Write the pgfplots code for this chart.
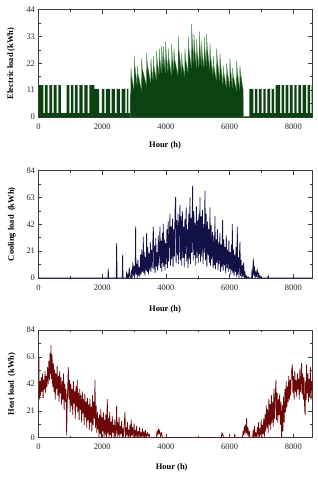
\documentclass[border=0pt]{standalone}
\usepackage{pgfplots}
\pgfplotsset{compat=1.18}
\usepackage{fontspec}
\setmainfont{Liberation Serif}
\definecolor{elecfill}{RGB}{12,66,18}
\definecolor{elecline}{RGB}{85,150,85}
\definecolor{coolline}{RGB}{18,18,72}
\definecolor{heatline}{RGB}{108,8,8}
\definecolor{axgray}{RGB}{60,60,60}
\pgfplotsset{
  loadax/.style={
    scale only axis, width=274bp, height=107.5bp,
    anchor=south west,
    xmin=0, xmax=8600, ymin=0,
    xtick={0,2000,4000,6000,8000}, minor x tick num=1, minor y tick num=1,
    tick align=inside, major tick length=4bp, minor tick length=2.2bp,
    axis line style={axgray, line width=0.6pt},
    every tick/.style={axgray, line width=0.5pt},
    /pgf/number format/assume math mode=true,
    /pgf/number format/1000 sep={},
    tick label style={font=\fontsize{8.5}{9}\selectfont, text=black!85},
    xticklabel style={yshift=-3bp},
    label style={font=\bfseries\fontsize{8.5}{9}\selectfont},
    xlabel={Hour (h)},
    ylabel style={anchor=center},
    xlabel style={anchor=center},
  }
}
\begin{document}
\begin{tikzpicture}
\useasboundingbox (0bp,0bp) rectangle (318bp,-480bp);
% ---------------- Electric load
\begin{axis}[loadax, at={(38.5bp,-117bp)}, ymax=44, ytick={0,11,22,33,44},
  ylabel={Electric load (kWh)},
  ylabel style={at={(axis description cs:-0.1004,0.5)}},
  xlabel style={at={(axis description cs:0.462,-0.263)}}]
\addplot[const plot, fill=elecfill, draw=none] coordinates {
(0,13)(151,1.6)(201,13)(288,1.6)(338,13)(424,1.6)(474,13)(571,1.6)(621,13)(706,1.6)
(885,13)(968,1.6)(1018,13)(1093,1.6)(1143,13)(1230,1.6)(1280,13)(1387,1.6)(1437,13)(1544,1.6)
(1594,13)(1752,11.5)(1900,1.6)(1990,11.5)(2066,1.6)(2116,11.5)(2245,1.6)(2295,11.5)(2401,1.6)
(2451,11.5)(2558,1.6)(2608,11.5)(2726,1.6)(2776,11.5)(2820,1.6)(2875,0)
(6430,0.3)(6618,11.5)(6744,1.6)(6794,11.5)(6869,1.6)(6919,11.5)(7005,1.6)(7055,11.5)(7131,1.6)
(7181,11.5)(7267,1.6)(7317,11.5)(7393,1.6)(7443,13)(7581,1.6)(7631,13)(7707,1.6)
(7757,13)(7842,1.6)(7892,13)(7979,1.6)(8029,13)(8104,1.6)(8154,13)(8240,1.6)(8290,13)(8397,1.6)
(8447,13)(8522,1.6)(8572,13)(8600,13)
} \closedcycle;
\addplot[fill=elecfill, draw=elecline, line width=0.35pt] coordinates {
(2875,0)(2878,9)(2895,10)
(2903,20)(2921,17)(2999,11)(3007,25)(3025,21)(3094,13)(3102,21)(3120,18)(3230,11)
(3238,24)(3256,20)(3386,13)(3394,26)(3412,22)(3522,14)(3530,24)(3548,20)(3596,15)
(3604,25)(3622,21)(3700,15)(3708,27)(3726,23)(3784,17)(3792,28)(3810,24)(3857,18)
(3865,29)(3883,25)(3909,20)(3917,29)(3935,25)(3983,18)(3991,31)(4009,26)(4066,18)
(4074,28)(4092,24)(4171,17)(4179,30)(4197,25)(4244,19)(4252,28)(4270,24)(4380,17)
(4388,33)(4406,28)(4485,18)(4493,26)(4511,22)(4589,17)(4597,28)(4615,24)(4694,18)
(4702,33)(4720,28)(4799,20)(4807,38)(4825,32)(4872,22)(4880,34)(4898,29)(4955,20)
(4963,32)(4981,27)(5039,20)(5047,35)(5065,30)(5112,21)(5120,31)(5138,26)(5196,20)
(5204,33)(5222,28)(5269,21)(5277,34)(5295,29)(5374,19)(5382,30)(5400,25)(5478,17)
(5486,25)(5504,21)(5583,15)(5591,28)(5609,24)(5688,15)(5696,26)(5714,22)(5792,13)
(5800,21)(5818,18)(5897,12)(5905,22)(5923,19)(6001,12)(6009,24)(6027,20)(6085,12)
(6093,20)(6111,17)(6211,11)(6219,23)(6237,19)(6315,11)(6323,21)(6341,18)(6425,11)(6430,0)
} \closedcycle;
\end{axis}
% ---------------- Cooling load
\begin{axis}[loadax, at={(38.5bp,-278bp)}, ymax=84, ytick={0,21,42,63,84},
  ylabel={Cooling load\ \ (kWh)},
  ylabel style={at={(axis description cs:-0.097,0.5)}},
  xlabel style={at={(axis description cs:0.462,-0.294)}}]
\addplot[coolline, line width=0.75pt, line join=round] coordinates {
(0,0)(2180,0)(2190,7)(2200,0)(2440,0)(2453,27)(2466,0)(2630,0)(2641,18)(2652,0)(2760,0)(2767,5)(2780,0)(2800,3)(2820,0)(2850,8)(2871,0)(2900,0)
(2920,6)(2940,0)(2960,12)(2980,2)(3000,9)(3020,1)(3040,15)(3049,40)(3060,3)(3080,11)(3100,0)(3120,14)(3140,2)(3160,8)(3180,1)
(3200,18)(3220,3)(3240,22)(3260,5)(3280,14)(3290,32)(3300,4)(3320,20)(3340,2)(3360,16)(3380,6)(3394,35)(3410,5)(3430,24)(3450,3)(3470,19)(3490,6)
(3510,28)(3530,5)(3550,22)(3570,8)(3590,30)(3604,40)(3620,7)(3640,25)(3660,4)(3680,31)(3700,9)(3720,20)(3740,6)(3760,33)(3780,10)(3800,26)(3813,40)(3830,8)(3850,29)(3870,5)(3890,35)(3910,12)(3917,42)(3930,9)(3950,30)(3970,6)(3990,27)(4010,11)
(4030,38)(4050,8)(4070,44)(4090,13)(4110,35)(4127,50)(4145,10)(4165,40)(4185,15)(4205,46)(4225,9)(4245,38)(4265,17)(4285,52)(4304,63)(4320,12)(4340,45)(4360,18)(4380,50)(4400,11)(4420,42)(4440,57)(4455,14)
(4475,48)(4495,10)(4515,52)(4535,16)(4555,40)(4575,9)(4595,46)(4615,19)(4635,55)(4655,13)(4675,38)(4695,8)(4715,50)(4735,15)(4754,63)(4770,11)(4790,47)(4810,20)(4838,72)(4855,14)(4875,52)(4895,18)(4915,43)(4935,10)(4955,56)(4975,16)(4995,45)(5015,12)(5035,50)(5055,19)
(5068,63)(5085,13)(5105,48)(5125,17)(5145,53)(5165,11)(5185,42)(5205,20)(5225,68)(5245,14)(5265,50)(5285,9)(5305,44)(5325,18)(5345,38)(5365,12)(5382,55)(5400,10)(5420,41)(5440,15)(5460,36)(5480,8)
(5500,33)(5520,10)(5539,48)(5555,7)(5575,30)(5595,12)(5615,38)(5635,6)(5655,28)(5675,11)(5695,35)(5715,5)(5735,26)(5755,9)(5779,45)(5795,6)(5815,30)(5835,10)(5855,24)(5875,4)(5895,33)(5915,8)(5935,22)(5955,5)(5975,29)(5995,7)(6015,20)(6035,3)(6055,26)(6070,6)(6083,42)(6100,4)
(6120,22)(6140,2)(6160,18)(6180,5)(6200,24)(6220,1)(6240,40)(6255,3)(6275,16)(6295,0)(6310,20)(6323,28)(6340,2)(6360,14)(6380,0)(6400,10)(6420,1)(6440,12)(6460,0)(6480,5)(6500,0)
(6520,2)(6540,0)(6580,1)(6600,0)(6690,0)(6700,6)(6715,0)(6742,15)(6760,2)(6780,9)(6800,0)(6820,5)(6840,1)(6867,7)(6885,0)(6905,4)(6930,0)(6951,2)(6970,0)
(7200,0)(7212,2)(7225,0)(8600,0)
};
\end{axis}
% ---------------- Heat load
\begin{axis}[loadax, at={(38.5bp,-437.7bp)}, ymax=84, ytick={0,21,42,63,84},
  ylabel={Heat load\ \ (kWh)},
  ylabel style={at={(axis description cs:-0.097,0.5)}},
  xlabel style={at={(axis description cs:0.486,-0.279)}}]
\addplot[heatline, line width=0.75pt, line join=round] coordinates {
(0,38)(12,62)(25,30)(45,44)(65,33)(85,47)(105,36)(125,50)(145,31)(165,45)(185,38)(205,52)(225,35)(245,48)(265,40)(285,55)(305,42)(325,60)(345,45)(365,66)(380,50)(392,72)(405,46)(425,65)(445,40)(466,58)(485,36)(505,53)(525,30)(545,50)(565,38)(585,56)(605,33)(625,48)(645,28)(665,52)(685,35)(705,47)(725,26)(745,44)(765,30)(785,50)(805,22)(825,42)(845,28)(865,38)(884,2)
(900,25)(918,40)(936,55)(955,30)(975,45)(995,20)(1015,42)(1035,25)(1055,38)(1075,18)(1095,44)(1115,27)(1135,36)(1155,15)(1175,40)(1198,24)(1215,45)(1235,20)(1255,35)(1275,14)(1295,38)(1315,22)(1335,33)(1355,12)(1375,36)(1395,19)(1415,30)(1435,10)(1455,34)(1475,16)(1495,28)(1515,8)(1535,31)(1555,14)(1575,26)(1595,6)(1615,30)(1635,12)(1655,24)(1675,5)(1695,33)(1715,10)(1735,28)(1755,15)(1773,45)(1790,8)(1810,25)(1830,4)(1850,20)(1870,7)(1885,15)(1899,0)
(1915,18)(1935,3)(1955,22)(1975,0)(1995,16)(2015,5)(2035,20)(2055,0)(2075,14)(2095,2)(2115,18)(2135,0)(2160,30)(2175,3)(2195,15)(2215,0)(2235,20)(2255,2)(2275,12)(2295,0)(2315,17)(2335,4)(2355,10)(2375,0)(2395,14)(2415,1)(2435,8)(2453,25)(2470,0)(2490,12)(2510,2)(2530,16)(2550,0)(2570,9)(2590,3)(2610,13)(2630,0)(2650,7)(2670,1)(2690,11)(2715,20)(2730,0)(2750,8)(2770,2)(2790,12)(2810,0)(2830,6)(2850,1)(2871,10)(2890,0)
(2910,14)(2930,2)(2950,8)(2970,0)(3000,11)(3020,0)(3040,6)(3060,1)(3080,9)(3100,0)(3130,5)(3150,0)(3175,8)(3195,0)(3220,4)(3240,1)(3260,7)(3280,0)(3310,5)(3330,0)(3360,6)(3380,0)(3420,4)(3440,1)(3470,3)(3500,0)
(3700,0)(3720,5)(3740,2)(3760,7)(3780,3)(3800,6)(3830,1)(3860,4)(3890,0)(5740,0)(5755,4)(5770,2)(5790,3)(5805,0)(6150,0)(6160,3)(6175,0)
(6400,0)(6420,5)(6440,2)(6460,9)(6480,3)(6500,10)(6520,4)(6532,15)(6550,2)(6575,8)(6600,1)(6620,5)(6640,0)(6720,0)(6740,6)(6760,0)(6780,9)(6800,1)(6820,4)(6840,0)(6870,8)(6890,1)(6910,12)(6930,0)(6950,7)(6970,2)(6990,14)(7010,0)
(7030,10)(7050,3)(7070,15)(7090,1)(7110,18)(7130,5)(7150,25)(7170,8)(7190,22)(7210,4)(7230,30)(7250,10)(7270,26)(7290,6)(7310,33)(7330,12)(7350,28)(7370,9)(7390,38)(7410,15)(7430,32)(7453,45)(7470,14)(7490,35)(7510,12)(7530,30)(7550,18)(7570,34)(7590,10)(7610,28)(7631,0)
(7650,25)(7670,5)(7690,32)(7710,12)(7735,38)(7755,20)(7775,44)(7795,24)(7815,40)(7835,28)(7855,48)(7875,30)(7895,45)(7915,33)(7935,50)(7966,57)(7985,35)(8005,48)(8025,30)(8045,52)(8065,36)(8085,45)(8105,32)(8125,50)(8145,38)(8165,46)(8185,30)(8205,54)(8225,36)(8245,48)(8258,58)(8275,34)(8295,50)(8315,30)(8335,47)(8355,22)(8370,18)(8385,44)(8400,30)(8415,57)(8435,35)(8455,50)(8475,28)(8495,46)(8515,32)(8535,55)(8555,30)(8575,44)(8600,36)
};
\end{axis}
\end{tikzpicture}
\end{document}
